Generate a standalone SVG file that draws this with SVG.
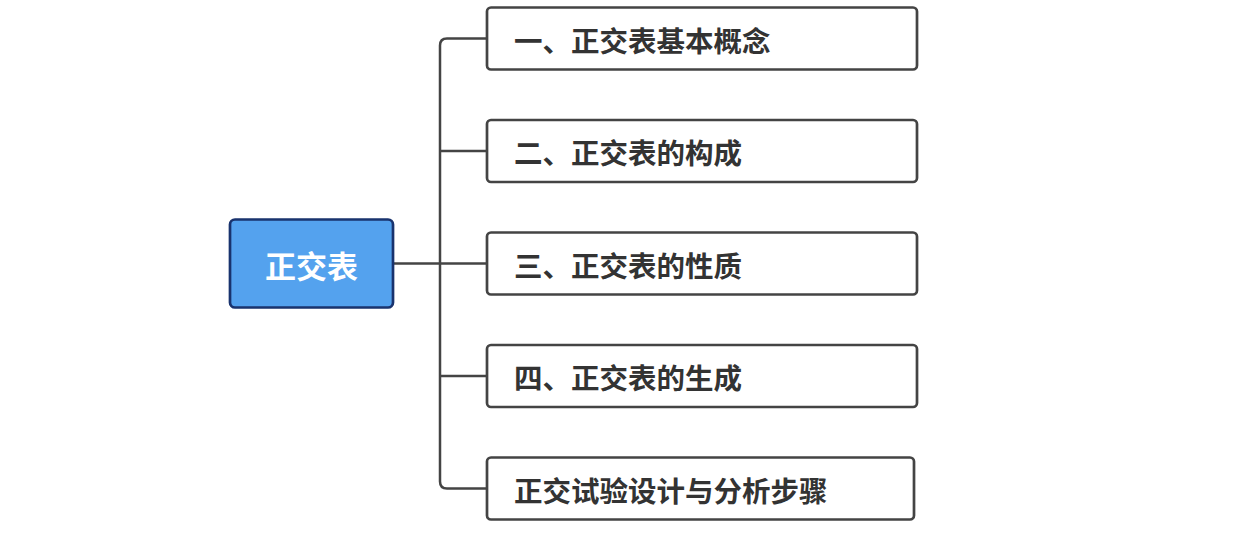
<svg xmlns="http://www.w3.org/2000/svg" width="1234" height="536" viewBox="0 0 1234 536">
<style>
.child rect{fill:#fff;stroke:#444;stroke-width:2.7}
.child text{font-family:"Noto Sans CJK SC","Noto Sans",sans-serif;font-weight:bold;font-size:28.5px;fill:#333}
.conn{fill:none;stroke:#444;stroke-width:2.5}
</style>
<rect width="1234" height="536" fill="#fff"/>
<g id="connectors">
<path class="conn" d="M393 263.5H487"/>
<path class="conn" d="M487 38.5H447Q440 38.5 440 45.5V481.5Q440 488.5 447 488.5H487"/>
<path class="conn" d="M440 151H487M440 376H487"/>
</g>
<g id="root">
<rect x="230" y="219.5" width="163" height="88" rx="5" fill="#54a2ee" stroke="#19336e" stroke-width="2.7"/>
<text x="311.5" y="264" text-anchor="middle" dominant-baseline="central" font-family="Noto Sans CJK SC,sans-serif" font-weight="bold" font-size="31" fill="#fff">正交表</text>
</g>
<g id="n1" class="child"><rect x="487" y="7.5" width="430" height="62" rx="4"/><text x="514" y="39" dominant-baseline="central">一、正交表基本概念</text></g>
<g id="n2" class="child"><rect x="487" y="120" width="430" height="62" rx="4"/><text x="514" y="151.5" dominant-baseline="central">二、正交表的构成</text></g>
<g id="n3" class="child"><rect x="487" y="232.5" width="430" height="62" rx="4"/><text x="514" y="264" dominant-baseline="central">三、正交表的性质</text></g>
<g id="n4" class="child"><rect x="487" y="345" width="430" height="62" rx="4"/><text x="514" y="376.5" dominant-baseline="central">四、正交表的生成</text></g>
<g id="n5" class="child"><rect x="487" y="457.5" width="427" height="62" rx="4"/><text x="514" y="489" dominant-baseline="central">正交试验设计与分析步骤</text></g>
</svg>
